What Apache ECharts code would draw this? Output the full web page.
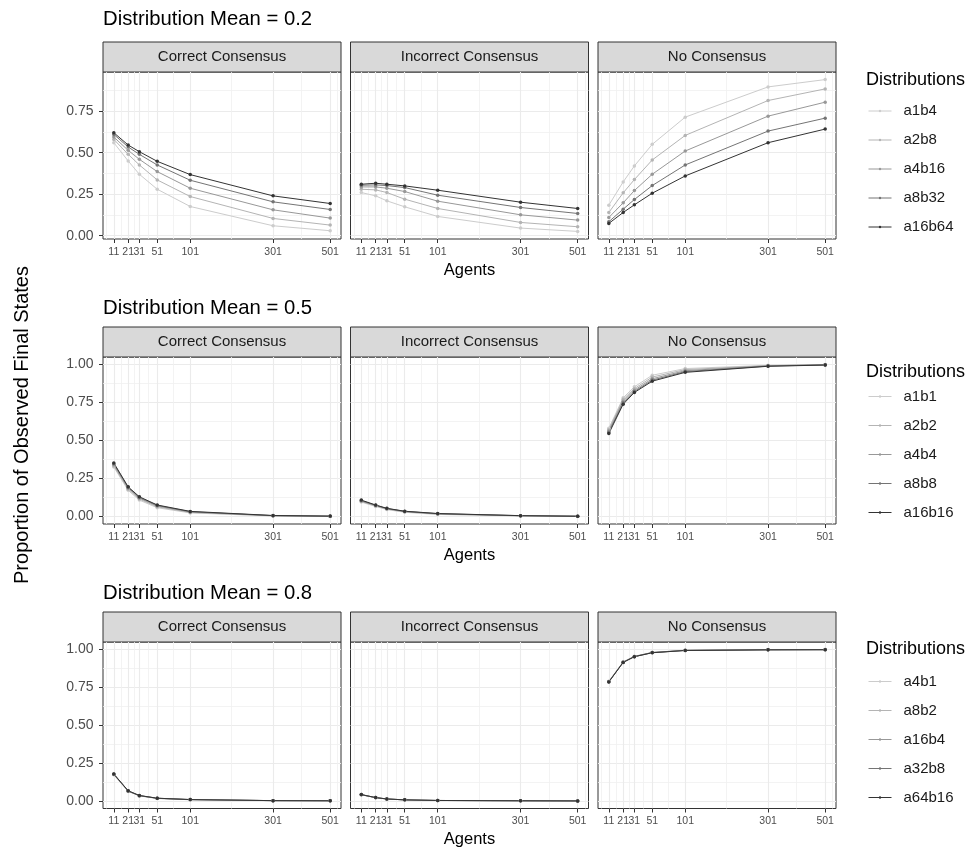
<!DOCTYPE html>
<html>
<head>
<meta charset="utf-8">
<title>Proportion of Observed Final States</title>
<script src="https://cdn.jsdelivr.net/npm/echarts@6.0.0/dist/echarts.min.js"></script>
<style>
  html, body { margin: 0; padding: 0; background: #fff; }
  #main { width: 970px; height: 849px; }
</style>
</head>
<body>
<div id="main"></div>
<script>
// number of agents (x), shown on a square-root scale like the original ggplot
var agents = [11, 21, 31, 51, 101, 301, 501];
var outcomes = ['Correct Consensus', 'Incorrect Consensus', 'No Consensus'];
var meanLabels = ['0.2', '0.5', '0.8'];
var yTicksTop = [0, 0.25, 0.5, 0.75];
var yTicksFull = [0, 0.25, 0.5, 0.75, 1];

// Distribution Mean = 0.2
var dists02 = ['a1b4', 'a2b8', 'a4b16', 'a8b32', 'a16b64'];
var m02Correct = [
  [0.56, 0.45, 0.37, 0.28, 0.176, 0.06, 0.03],
  [0.58, 0.49, 0.426, 0.336, 0.236, 0.104, 0.064],
  [0.594, 0.514, 0.46, 0.386, 0.286, 0.156, 0.106],
  [0.61, 0.534, 0.49, 0.426, 0.334, 0.204, 0.158],
  [0.62, 0.546, 0.506, 0.448, 0.368, 0.24, 0.194]
];
var m02Incorrect = [
  [0.26, 0.24, 0.21, 0.174, 0.116, 0.046, 0.026],
  [0.28, 0.276, 0.26, 0.22, 0.164, 0.08, 0.054],
  [0.294, 0.294, 0.286, 0.266, 0.208, 0.126, 0.094],
  [0.304, 0.306, 0.302, 0.29, 0.244, 0.17, 0.134],
  [0.31, 0.316, 0.31, 0.30, 0.274, 0.202, 0.164]
];
var m02None = [
  [0.184, 0.324, 0.42, 0.55, 0.714, 0.896, 0.94],
  [0.14, 0.258, 0.338, 0.456, 0.604, 0.814, 0.884],
  [0.11, 0.198, 0.272, 0.37, 0.51, 0.72, 0.804],
  [0.084, 0.16, 0.218, 0.302, 0.426, 0.63, 0.708],
  [0.074, 0.14, 0.186, 0.256, 0.36, 0.56, 0.642]
];

// Distribution Mean = 0.5
var dists05 = ['a1b1', 'a2b2', 'a4b4', 'a8b8', 'a16b16'];
var m05Correct = [
  [0.325, 0.172, 0.108, 0.058, 0.024, 0.004, 0.001],
  [0.332, 0.18, 0.115, 0.064, 0.027, 0.005, 0.002],
  [0.34, 0.186, 0.121, 0.069, 0.03, 0.006, 0.002],
  [0.347, 0.191, 0.126, 0.073, 0.032, 0.006, 0.002],
  [0.352, 0.195, 0.13, 0.076, 0.034, 0.007, 0.003]
];
var m05Incorrect = [
  [0.095, 0.066, 0.046, 0.028, 0.014, 0.004, 0.001],
  [0.099, 0.07, 0.049, 0.031, 0.016, 0.005, 0.002],
  [0.102, 0.072, 0.051, 0.033, 0.018, 0.005, 0.002],
  [0.105, 0.074, 0.053, 0.034, 0.019, 0.006, 0.002],
  [0.108, 0.076, 0.054, 0.035, 0.02, 0.006, 0.002]
];
var m05None = [
  [0.58, 0.78, 0.852, 0.928, 0.972, 0.993, 0.998],
  [0.57, 0.77, 0.84, 0.916, 0.965, 0.991, 0.997],
  [0.562, 0.758, 0.83, 0.905, 0.958, 0.99, 0.997],
  [0.553, 0.748, 0.822, 0.896, 0.952, 0.988, 0.996],
  [0.545, 0.738, 0.815, 0.889, 0.947, 0.987, 0.995]
];

// Distribution Mean = 0.8
var dists08 = ['a4b1', 'a8b2', 'a16b4', 'a32b8', 'a64b16'];
var m08Correct = [
  [0.172, 0.063, 0.033, 0.016, 0.008, 0.002, 0.001],
  [0.174, 0.064, 0.034, 0.017, 0.008, 0.002, 0.001],
  [0.176, 0.065, 0.035, 0.017, 0.009, 0.002, 0.001],
  [0.177, 0.066, 0.035, 0.018, 0.009, 0.002, 0.001],
  [0.178, 0.067, 0.036, 0.018, 0.009, 0.002, 0.001]
];
var m08Incorrect = [
  [0.04, 0.021, 0.012, 0.007, 0.003, 0.001, 0],
  [0.041, 0.021, 0.013, 0.007, 0.003, 0.001, 0],
  [0.041, 0.022, 0.013, 0.007, 0.003, 0.001, 0],
  [0.042, 0.022, 0.013, 0.007, 0.003, 0.001, 0],
  [0.042, 0.022, 0.013, 0.007, 0.003, 0.001, 0]
];
var m08None = [
  [0.79, 0.918, 0.955, 0.98, 0.995, 0.999, 0.999],
  [0.788, 0.917, 0.954, 0.98, 0.994, 0.998, 0.999],
  [0.787, 0.916, 0.953, 0.979, 0.994, 0.998, 0.999],
  [0.786, 0.915, 0.952, 0.979, 0.993, 0.998, 0.998],
  [0.785, 0.914, 0.952, 0.978, 0.993, 0.997, 0.998]
];

var greys = ['#CCCCCC', '#B4B4B4', '#989898', '#747474', '#333333'];
var font = 'Liberation Sans, Arial, Helvetica, sans-serif';

var rows = [
  { dists: dists02, panels: [m02Correct, m02Incorrect, m02None], ticks: yTicksTop },
  { dists: dists05, panels: [m05Correct, m05Incorrect, m05None], ticks: yTicksFull },
  { dists: dists08, panels: [m08Correct, m08Incorrect, m08None], ticks: yTicksFull }
];

// layout (px)
var colLeft = [103, 350.5, 598];
var panelW = 238;
var rowTop = [72, 357, 642];
var panelH = [167, 167, 166.5];
var stripH = 30;
var titleY = [19.5, 308, 593];
var legendTitleY = [80, 372, 649];
var legendFirstY = [111, 396.5, 681.5];

// ggplot-like continuous expansion and minor breaks
function expand(lo, hi) {
  var d = (hi - lo) * 0.05;
  return [lo - d, hi + d];
}
function minorBreaks(maj, lim) {
  var d = maj[1] - maj[0];
  var b = [maj[0] - d].concat(maj, [maj[maj.length - 1] + d]);
  var out = [];
  for (var i = 0; i < b.length - 1; i++) out.push((b[i] + b[i + 1]) / 2);
  return out.filter(function (v) { return v > lim[0] && v < lim[1]; });
}

var xMajor = agents.map(Math.sqrt);
var xLim = expand(xMajor[0], xMajor[xMajor.length - 1]);
var xMinor = minorBreaks(xMajor, xLim);

var grids = [], xAxes = [], yAxes = [], series = [], legends = [], graphics = [];

var majorLine = { show: true, lineStyle: { color: '#EBEBEB', width: 1.1 } };
var minorLine = { show: true, lineStyle: { color: '#F0F0F0', width: 0.8 } };

rows.forEach(function (row, r) {
  var all = [];
  row.panels.forEach(function (p) { p.forEach(function (s) { all = all.concat(s); }); });
  var yLim = expand(Math.min.apply(null, all), Math.max.apply(null, all));
  var yMinor = minorBreaks(row.ticks, yLim);

  row.panels.forEach(function (panel, c) {
    var g = r * 3 + c;
    grids.push({
      left: colLeft[c], top: rowTop[r], width: panelW, height: panelH[r],
      show: true, backgroundColor: '#fff', borderColor: '#333', borderWidth: 1,
      outerBoundsMode: 'none'
    });
    xAxes.push({
      type: 'value', gridIndex: g, position: 'bottom', min: xLim[0], max: xLim[1],
      axisLine: { show: false, onZero: false },
      axisTick: { show: true, length: 4, customValues: xMajor, lineStyle: { color: '#333', width: 1 } },
      axisLabel: {
        show: true, customValues: xMajor, margin: 7.5, fontSize: 10.5, color: '#4D4D4D', fontFamily: font,
        formatter: function (v) { return String(Math.round(v * v)); }
      },
      splitLine: majorLine,
      name: c === 1 ? 'Agents' : '', nameLocation: 'middle', nameGap: 22.5,
      nameTextStyle: { fontSize: 16.5, color: '#000', fontFamily: font }
    });
    xAxes.push({
      type: 'value', gridIndex: g, position: 'bottom', min: xLim[0], max: xLim[1],
      axisLine: { show: false, onZero: false },
      axisTick: { show: false, customValues: xMinor },
      axisLabel: { show: false },
      splitLine: minorLine
    });
    yAxes.push({
      type: 'value', gridIndex: g, min: yLim[0], max: yLim[1],
      axisLine: { show: false, onZero: false },
      axisTick: { show: c === 0, length: 4, customValues: row.ticks, lineStyle: { color: '#333', width: 1 } },
      axisLabel: {
        show: c === 0, customValues: row.ticks, margin: 9.5, fontSize: 14, color: '#4D4D4D', fontFamily: font,
        formatter: function (v) { return v.toFixed(2); }
      },
      splitLine: majorLine
    });
    yAxes.push({
      type: 'value', gridIndex: g, min: yLim[0], max: yLim[1],
      axisLine: { show: false, onZero: false },
      axisTick: { show: false, customValues: yMinor },
      axisLabel: { show: false },
      splitLine: minorLine
    });

    panel.forEach(function (vals, k) {
      series.push({
        name: row.dists[k], type: 'line', xAxisIndex: 2 * g, yAxisIndex: 2 * g,
        data: agents.map(function (a, j) { return [Math.sqrt(a), vals[j]]; }),
        symbol: 'circle', symbolSize: 3.5, showSymbol: true,
        lineStyle: { color: greys[k], width: 1 },
        itemStyle: { color: greys[k], borderWidth: 0 },
        emphasis: { disabled: true },
        silent: true
      });
    });

    // facet strip
    graphics.push({
      type: 'rect',
      shape: { x: colLeft[c], y: rowTop[r] - stripH, width: panelW, height: stripH },
      style: { fill: '#D9D9D9', stroke: '#333', lineWidth: 1 }
    });
    graphics.push({
      type: 'text', x: colLeft[c] + panelW / 2, y: rowTop[r] - stripH / 2,
      style: {
        text: outcomes[c], fontSize: 15, fontFamily: font, fill: '#1A1A1A',
        align: 'center', verticalAlign: 'middle', textAlign: 'center', textVerticalAlign: 'middle'
      }
    });
  });

  // row title
  graphics.push({
    type: 'text', x: colLeft[0], y: titleY[r],
    style: {
      text: 'Distribution Mean = ' + meanLabels[r], fontSize: 20.3, fontFamily: font, fill: '#000',
      align: 'left', verticalAlign: 'middle', textAlign: 'left', textVerticalAlign: 'middle'
    }
  });
  // legend title
  graphics.push({
    type: 'text', x: 866, y: legendTitleY[r],
    style: {
      text: 'Distributions', fontSize: 18, fontFamily: font, fill: '#000',
      align: 'left', verticalAlign: 'middle', textAlign: 'left', textVerticalAlign: 'middle'
    }
  });

  legends.push({
    data: row.dists, orient: 'vertical', left: 868, top: legendFirstY[r] - 14.5,
    padding: 0, itemWidth: 23, itemHeight: 3, itemGap: 0, selectedMode: false,
    lineStyle: { width: 1 },
    itemStyle: { borderWidth: 0 },
    textStyle: { fontSize: 15, lineHeight: 29, color: '#1A1A1A', fontFamily: font, padding: [0, 0, 0, 7] }
  });
});

// shared y title
graphics.push({
  type: 'text', x: 22, y: 425, rotation: Math.PI / 2,
  style: {
    text: 'Proportion of Observed Final States', fontSize: 20, fontFamily: font, fill: '#000',
    align: 'center', verticalAlign: 'middle', textAlign: 'center', textVerticalAlign: 'middle'
  }
});

var chart = echarts.init(document.getElementById('main'), null, { renderer: 'canvas' });
chart.setOption({
  backgroundColor: '#fff',
  animation: false,
  grid: grids,
  xAxis: xAxes,
  yAxis: yAxes,
  legend: legends,
  series: series,
  graphic: { elements: graphics }
});
</script>
</body>
</html>
